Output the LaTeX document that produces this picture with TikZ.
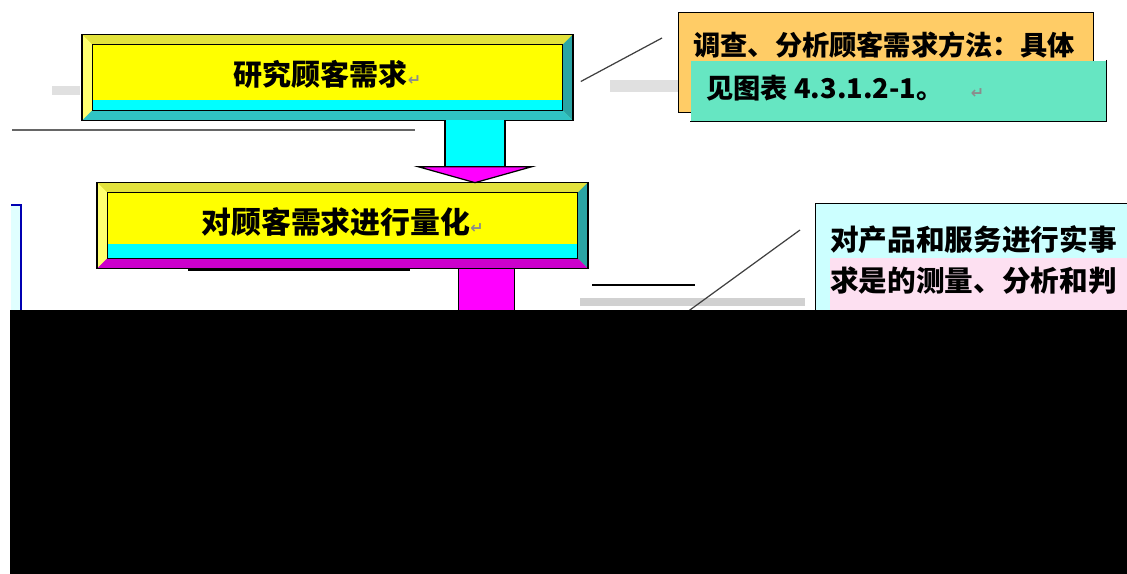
\documentclass[tikz,border=0pt]{standalone}
\usepackage{fontspec}
\setmainfont{Noto Sans CJK SC}
\newfontfamily\cjk{Noto Sans CJK SC}
\newfontfamily\markfont{DejaVu Sans}
\usetikzlibrary{calc,positioning}
\definecolor{faceyellow}{HTML}{FFFF00}
\definecolor{bevellight}{HTML}{FFFF70}
\definecolor{beveltop}{HTML}{E2E23C}
\definecolor{bevelteal}{HTML}{2AA5A5}
\definecolor{bottomteal}{HTML}{30C4C4}
\definecolor{bevelmagenta}{HTML}{CC00CC}
\definecolor{arrowmagenta}{HTML}{FF00FF}
\definecolor{stripcyan}{HTML}{00FFFF}
\definecolor{noteorange}{HTML}{FFCC66}
\definecolor{noteaqua}{HTML}{66E6C2}
\definecolor{notecyan}{HTML}{CCFFFF}
\newcommand{\retmark}{{\markfont\color{black!45}\fontsize{9}{9}\selectfont ↵}}

\begin{document}
\begin{tikzpicture}[x=0.02cm,y=-0.02cm,
    bevel/.style={fill=faceyellow,minimum width=9.8cm,minimum height=1.7cm,inner sep=0pt},
    boxtext/.style={font=\cjk\bfseries\fontsize{16.5}{20}\selectfont},
    note/.style={draw=black,line width=0.7pt,inner sep=0pt,anchor=north west},
    notetext/.style={anchor=west,inner sep=0pt,font=\cjk\bfseries\fontsize{15.5}{19}\selectfont},
    leader/.style={draw=black!75,line width=0.7pt}]
    \useasboundingbox (0,0) rectangle (1127,574);
    \clip (0,0) rectangle (1127,574);

    % first step
    \node[bevel] (need) at (327.5,77.5) {};
    \fill[stripcyan] ($(need.south west)+(10,-20)$) rectangle ($(need.south east)+(-10,-10)$);
    \fill[beveltop] (need.north west) -- (need.north east) -- ($(need.north east)+(-10,10)$) -- ($(need.north west)+(10,10)$) -- cycle;
    \fill[bevellight] (need.north west) -- ($(need.north west)+(10,10)$) -- ($(need.south west)+(10,-10)$) -- (need.south west) -- cycle;
    \fill[bevelteal] (need.north east) -- ($(need.north east)+(-10,10)$) -- ($(need.south east)+(-10,-10)$) -- (need.south east) -- cycle;
    \fill[bottomteal] (need.south west) -- ($(need.south west)+(10,-10)$) -- ($(need.south east)+(-10,-10)$) -- (need.south east) -- cycle;
    \draw[line width=0.8pt] (need.north west) rectangle (need.south east);
    \draw[line width=0.5pt] ($(need.north west)+(10,10)$) rectangle ($(need.south east)+(-10,-10)$);
    \node[boxtext] (needtxt) at ($(need.center)+(0,-3)$) {研究顾客需求\retmark};

    % second step
    \node[bevel] (quant) at (342.5,225.5) {};
    \fill[stripcyan] ($(quant.south west)+(10,-24)$) rectangle ($(quant.south east)+(-10,-10)$);
    \fill[beveltop] (quant.north west) -- (quant.north east) -- ($(quant.north east)+(-10,10)$) -- ($(quant.north west)+(10,10)$) -- cycle;
    \fill[bevellight] (quant.north west) -- ($(quant.north west)+(10,10)$) -- ($(quant.south west)+(10,-10)$) -- (quant.south west) -- cycle;
    \fill[bevelteal] (quant.north east) -- ($(quant.north east)+(-10,10)$) -- ($(quant.south east)+(-10,-10)$) -- (quant.south east) -- cycle;
    \fill[bevelmagenta] (quant.south west) -- ($(quant.south west)+(10,-10)$) -- ($(quant.south east)+(-10,-10)$) -- (quant.south east) -- cycle;
    \draw[line width=0.8pt] (quant.north west) rectangle (quant.south east);
    \draw[line width=0.5pt] ($(quant.north west)+(10,10)$) rectangle ($(quant.south east)+(-10,-10)$);
    \node[boxtext,font=\cjk\bfseries\fontsize{17}{20}\selectfont] (quanttxt) at ($(quant.center)+(0,-3)$) {对顾客需求进行量化\retmark};

    % arrow between the steps
    \coordinate (a1) at ($(need.south)+(147.5,0)$);
    \coordinate (a2) at ($(quant.north)+(132.5,0)$);
    \fill[stripcyan] ($(a1)+(-30,0)$) rectangle ($(a2)+(30,-16)$);
    \draw[line width=0.7pt] ($(a1)+(-30,0)$) -- ($(a2)+(-30,-16)$);
    \draw[line width=0.7pt] ($(a1)+(30,0)$) -- ($(a2)+(30,-16)$);
    \filldraw[fill=arrowmagenta,line width=0.7pt] ($(a2)+(-57,-16)$) -- ($(a2)+(57,-16)$) -- (a2) -- cycle;

    % arrow below the second step
    \coordinate (a3) at ($(quant.south)+(144,0)$);
    \filldraw[fill=arrowmagenta,line width=0.7pt] ($(a3)+(-28,0)$) rectangle ($(a3)+(28,60)$);

    % shadows and stray lines
    \fill[black!12] (52,86) rectangle (80,95);
    \fill[black!12] (610,80) rectangle (678,92);
    \draw[black!60,line width=1.2pt] (12,130) -- (415,130);
    \draw[line width=1pt] (188,270) -- (410,270);
    \draw[line width=1pt] (592,285) -- (695,285);
    \fill[black!18] (580,298) rectangle (805,306);
    \filldraw[fill=notecyan!60,draw=blue!70!black,line width=0.7pt] (11,205) -| (21,315) -- (11,315);

    % first note
    \node[note,fill=noteorange,minimum width=8.3cm,minimum height=2cm] (method) at (678,12) {};
    \node[notetext] (methodtxt) at (693,45) {调查、分析顾客需求方法：具体};
    \node[note,fill=noteaqua,draw=none,minimum width=8.3cm,minimum height=1.2cm] (see) at (690,60) {};
    \draw[line width=0.7pt] (see.north east) -- (see.south east) -- (see.south west);
    \node[notetext] (seetxt) at (706,88) {见图表 4.3.1.2-1。\quad\retmark};
    \coordinate (m1) at (662,38);
    \draw[leader] ($(need.east)+(8,4)$) -- (m1);

    % second note
    \node[note,fill=notecyan,minimum width=7cm,minimum height=2.8cm] (measure) at (815,203) {};
    \fill[magenta!12] (830,258) rectangle (1127,312);
    \node[notetext,font=\cjk\bfseries\fontsize{16.3}{20}\selectfont] (measuretxt) at (830,240) {对产品和服务进行实事};
    \node[notetext,font=\cjk\bfseries\fontsize{16.3}{20}\selectfont] (measuretxt2) at (830,281) {求是的测量、分析和判};
    \coordinate (m2) at (683,315);
    \coordinate (m3) at (800,230);
    \draw[leader] (m2) -- (m3);

    % covered lower half
    \fill[black] (10,310) rectangle (1127,574);
\end{tikzpicture}
\end{document}
